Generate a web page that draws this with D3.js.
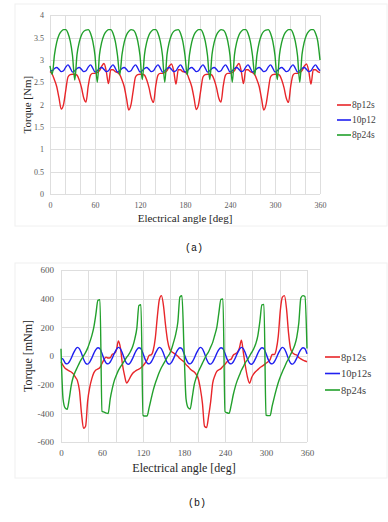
<!DOCTYPE html>
<html>
<head>
<meta charset="utf-8">
<script src="https://cdn.jsdelivr.net/npm/d3@7"></script>
<style>
  body { margin: 0; background: #fff; }
  svg { display: block; }
</style>
</head>
<body>
<svg id="chart" width="388" height="522"></svg>
<script>
// electrical angle, shared by both panels (deg)
const angles = [
  0,3,6,9,12,15,18,21,24,27,
  30,33,36,39,42,45,48,51,54,57,
  60,63,66,69,72,75,78,81,84,87,
  90,93,96,99,102,105,108,111,114,117,
  120,123,126,129,132,135,138,141,144,147,
  150,153,156,159,162,165,168,171,174,177,
  180,183,186,189,192,195,198,201,204,207,
  210,213,216,219,222,225,228,231,234,237,
  240,243,246,249,252,255,258,261,264,267,
  270,273,276,279,282,285,288,291,294,297,
  300,303,306,309,312,315,318,321,324,327,
  330,333,336,339,342,345,348,351,354,357,
  360
];

// ---- (a) torque [Nm] ----
const torqueA_8p12s = [
  2.74,2.68,2.55,2.40,2.15,1.90,2.00,2.32,2.62,2.67,
  2.68,2.68,2.66,2.55,2.38,2.15,2.06,2.42,2.66,2.70,
  2.70,2.72,2.76,2.86,2.92,2.75,2.47,2.78,2.78,2.74,
  2.72,2.67,2.55,2.40,2.14,1.88,2.00,2.32,2.62,2.67,
  2.68,2.68,2.66,2.55,2.38,2.15,2.05,2.42,2.66,2.70,
  2.70,2.72,2.76,2.86,2.91,2.75,2.46,2.78,2.78,2.74,
  2.73,2.68,2.55,2.40,2.15,1.89,2.00,2.32,2.62,2.67,
  2.68,2.68,2.66,2.55,2.38,2.15,2.06,2.42,2.66,2.70,
  2.70,2.72,2.76,2.86,2.92,2.75,2.47,2.78,2.78,2.74,
  2.72,2.67,2.55,2.40,2.14,1.88,2.00,2.32,2.62,2.67,
  2.68,2.68,2.66,2.55,2.38,2.15,2.05,2.42,2.66,2.70,
  2.70,2.72,2.76,2.86,2.91,2.75,2.46,2.78,2.78,2.74,
  2.72
];
const torqueA_10p12 = [
  2.76,2.76,2.81,2.83,2.79,2.74,2.76,2.84,2.89,2.82,
  2.73,2.76,2.81,2.83,2.79,2.74,2.76,2.84,2.89,2.82,
  2.73,2.76,2.81,2.83,2.79,2.74,2.76,2.84,2.89,2.82,
  2.73,2.76,2.81,2.83,2.79,2.74,2.76,2.84,2.89,2.82,
  2.73,2.76,2.81,2.83,2.79,2.74,2.76,2.84,2.89,2.82,
  2.73,2.76,2.81,2.83,2.79,2.74,2.76,2.84,2.89,2.82,
  2.73,2.76,2.81,2.83,2.79,2.74,2.76,2.84,2.89,2.82,
  2.73,2.76,2.81,2.83,2.79,2.74,2.76,2.84,2.89,2.82,
  2.73,2.76,2.81,2.83,2.79,2.74,2.76,2.84,2.89,2.82,
  2.73,2.76,2.81,2.83,2.79,2.74,2.76,2.84,2.89,2.82,
  2.73,2.76,2.81,2.83,2.79,2.74,2.76,2.84,2.89,2.82,
  2.73,2.76,2.81,2.83,2.79,2.74,2.76,2.84,2.89,2.82,
  2.76
];
const torqueA_8p24s = [
  2.87,2.68,3.12,3.40,3.56,3.64,3.68,3.68,3.60,3.42,
  3.10,2.55,3.12,3.40,3.56,3.64,3.67,3.68,3.60,3.42,
  3.10,2.50,3.12,3.40,3.56,3.64,3.68,3.68,3.60,3.42,
  3.10,2.67,3.12,3.40,3.56,3.64,3.68,3.67,3.60,3.42,
  3.10,2.56,3.12,3.40,3.56,3.64,3.68,3.68,3.60,3.42,
  3.10,2.50,3.12,3.40,3.56,3.64,3.67,3.68,3.60,3.42,
  3.10,2.67,3.12,3.40,3.56,3.64,3.68,3.68,3.60,3.42,
  3.10,2.56,3.12,3.40,3.56,3.64,3.68,3.67,3.60,3.42,
  3.10,2.50,3.12,3.40,3.56,3.64,3.68,3.68,3.60,3.42,
  3.10,2.67,3.12,3.40,3.56,3.64,3.67,3.68,3.60,3.42,
  3.10,2.56,3.12,3.40,3.56,3.64,3.68,3.68,3.60,3.42,
  3.10,2.50,3.12,3.40,3.56,3.64,3.68,3.68,3.60,3.42,
  3.00
];

// ---- (b) torque ripple [mNm] ----
const torqueB_8p12s = [
  -40,-65,-86,-95,-104,-112,-125,-148,-172,-240,
  -400,-505,-490,-315,-220,-160,-118,-98,-90,-80,
  -52,-25,-8,-14,-12,12,18,40,105,55,
  -60,-135,-188,-170,-142,-120,-108,-98,-92,-82,
  -68,-50,-28,5,8,40,125,275,395,421,
  350,215,105,48,30,20,10,-2,-18,-30,
  -40,-60,-74,-90,-102,-112,-130,-160,-230,-330,
  -490,-500,-420,-320,-190,-140,-108,-96,-88,-72,
  -58,-40,-28,-22,5,15,25,55,110,20,
  -75,-150,-190,-150,-125,-108,-95,-82,-72,-62,
  -51,-40,-25,10,10,45,140,320,410,421,
  330,160,50,22,12,7,-10,-20,-28,-35,
  -40
];
const torqueB_10p12s = [
  -15,-22,-48,-55,-42,-15,18,45,60,50,
  18,-22,-50,-57,-42,-15,18,45,58,50,
  18,-22,-48,-55,-42,-15,18,45,60,50,
  18,-22,-50,-58,-42,-15,18,45,58,50,
  18,-22,-48,-55,-42,-15,18,45,60,50,
  18,-22,-50,-57,-42,-15,18,45,58,50,
  18,-22,-48,-55,-42,-15,18,45,60,50,
  18,-22,-50,-57,-42,-15,18,45,58,50,
  18,-22,-48,-55,-42,-15,18,45,60,50,
  18,-22,-50,-58,-42,-15,18,45,58,50,
  18,-22,-48,-55,-42,-15,18,45,60,50,
  18,-22,-50,-57,-42,-15,18,45,58,50,
  15
];
const torqueB_8p24s = [
  50,-300,-362,-372,-300,-205,-145,-108,-78,-48,
  -22,2,25,55,95,140,200,290,388,393,
  -385,-392,-398,-402,-300,-228,-172,-135,-100,-75,
  -55,-33,-10,10,35,68,120,195,352,358,
  -414,-419,-419,-360,-298,-238,-190,-150,-112,-80,
  -55,-30,-5,16,52,100,155,237,412,420,
  50,-300,-360,-370,-290,-200,-150,-110,-80,-50,
  -20,7,30,62,95,145,200,300,395,398,
  -388,-396,-400,-345,-272,-215,-170,-135,-100,-72,
  -45,-25,0,25,50,85,140,240,356,360,
  -412,-416,-416,-350,-290,-235,-185,-145,-110,-78,
  -45,-20,10,40,75,130,230,405,421,415,
  53
];

const seriesNames = ["8p12s", "10p12", "8p24s"];
const seriesNamesB = ["8p12s", "10p12s", "8p24s"];
const seriesColors = ["#e8262a", "#2020f0", "#22a02c"];

const xLabelTicks = [0, 60, 120, 180, 240, 300, 360];
const xGridA = [0, 20, 40, 60, 80, 100, 120, 140, 160, 180, 200, 220, 240, 260, 280, 300, 320, 340, 360];
const xGridB = [0, 40, 80, 120, 160, 200, 240, 280, 320, 360];
const yTicksA = [0, 0.5, 1, 1.5, 2, 2.5, 3, 3.5, 4];
const yTicksB = [-600, -400, -200, 0, 200, 400, 600];

const svg = d3.select('#chart');
const serif = '"Liberation Serif", "Times New Roman", serif';

function drawPanel(cfg) {
  const g = svg.append('g');

  // faint chart-area frame
  g.append('rect')
    .attr('x', cfg.frame[0]).attr('y', cfg.frame[1])
    .attr('width', cfg.frame[2]).attr('height', cfg.frame[3])
    .attr('fill', 'none').attr('stroke', '#f0f0f0').attr('stroke-width', 1);

  const x = d3.scaleLinear().domain([0, 360]).range([cfg.left, cfg.right]);
  const y = d3.scaleLinear().domain(cfg.yDomain).range([cfg.bottom, cfg.top]);

  // grid
  g.append('g').selectAll('line.v').data(cfg.xGrid).join('line')
    .attr('x1', d => Math.round(x(d)) + 0.5).attr('x2', d => Math.round(x(d)) + 0.5)
    .attr('y1', cfg.top).attr('y2', cfg.bottom)
    .attr('stroke', '#dedede').attr('stroke-width', 1);
  g.append('g').selectAll('line.h').data(cfg.yTicks).join('line')
    .attr('x1', cfg.left).attr('x2', cfg.right)
    .attr('y1', d => Math.round(y(d)) + 0.5).attr('y2', d => Math.round(y(d)) + 0.5)
    .attr('stroke', '#dedede').attr('stroke-width', 1);

  // axes (labels only)
  const xAxis = g.append('g')
    .attr('transform', `translate(0,${cfg.bottom})`)
    .call(d3.axisBottom(x).tickValues(xLabelTicks).tickSize(0).tickPadding(cfg.xPad).tickFormat(d => String(d)));
  const yAxis = g.append('g')
    .attr('transform', `translate(${cfg.left},0)`)
    .call(d3.axisLeft(y).tickValues(cfg.yTicks).tickSize(0).tickPadding(cfg.yPad).tickFormat(d => String(d)));
  [xAxis, yAxis].forEach(a => {
    a.select('.domain').remove();
    a.selectAll('text').attr('fill', '#595959')
      .style('font-family', serif).style('font-size', cfg.tickSize + 'px');
  });

  // series
  const line = d3.line()
    .x((d, i) => x(angles[i]))
    .y(d => y(d))
    .curve(d3.curveMonotoneX);
  cfg.series.forEach((s, k) => {
    g.append('path').datum(s)
      .attr('d', line)
      .attr('fill', 'none')
      .attr('stroke', seriesColors[k])
      .attr('stroke-width', 1.4)
      .attr('stroke-linejoin', 'round');
  });

  // axis titles
  g.append('text')
    .attr('x', (cfg.left + cfg.right) / 2).attr('y', cfg.xTitleY)
    .attr('text-anchor', 'middle')
    .style('font-family', serif).style('font-size', cfg.titleSize + 'px').attr('fill', '#262626')
    .text('Electrical angle [deg]');
  g.append('text')
    .attr('transform', `translate(${cfg.yTitleX},${(cfg.top + cfg.bottom) / 2}) rotate(-90)`)
    .attr('text-anchor', 'middle')
    .style('font-family', serif).style('font-size', cfg.titleSize + 'px').attr('fill', '#262626')
    .text(cfg.yTitle);

  // legend
  const leg = g.append('g').attr('transform', `translate(${cfg.legX},${cfg.legY})`);
  cfg.names.forEach((n, k) => {
    const row = leg.append('g').attr('transform', `translate(0,${k * cfg.legGap})`);
    row.append('line').attr('x1', 0).attr('x2', cfg.legLen).attr('y1', 0).attr('y2', 0)
      .attr('stroke', seriesColors[k]).attr('stroke-width', 1.6);
    row.append('text').attr('x', cfg.legLen + 1).attr('y', 0).attr('dy', '0.35em')
      .style('font-family', serif).style('font-size', cfg.legSize + 'px').attr('fill', '#404040')
      .text(n);
  });

  // caption
  svg.append('text')
    .attr('x', cfg.capX).attr('y', cfg.capY)
    .attr('text-anchor', 'middle')
    .style('font-family', '"Liberation Mono", "DejaVu Sans Mono", monospace')
    .style('font-size', '10px').attr('fill', '#111')
    .text(cfg.caption);
}

drawPanel({
  frame: [15, 4, 372, 222],
  left: 50, right: 320, top: 15.3, bottom: 194,
  yDomain: [0, 4], yTicks: yTicksA, xGrid: xGridA,
  xPad: 8, yPad: 6, tickSize: 8,
  series: [torqueA_8p12s, torqueA_10p12, torqueA_8p24s],
  names: seriesNames,
  xTitleY: 222, yTitleX: 31, titleSize: 11, yTitle: 'Torque [Nm]',
  legX: 337, legY: 105, legGap: 15, legLen: 14, legSize: 9.5,
  capX: 194, capY: 251, caption: '(a)'
});

drawPanel({
  frame: [15, 263, 372, 215],
  left: 61, right: 307, top: 270, bottom: 442,
  yDomain: [-600, 600], yTicks: yTicksB, xGrid: xGridB,
  xPad: 8, yPad: 7, tickSize: 9,
  series: [torqueB_8p12s, torqueB_10p12s, torqueB_8p24s],
  names: seriesNamesB,
  xTitleY: 472, yTitleX: 32, titleSize: 12, yTitle: 'Torque [mNm]',
  legX: 325, legY: 357, legGap: 16.5, legLen: 15, legSize: 10.5,
  capX: 197, capY: 506, caption: '(b)'
});
</script>
</body>
</html>
